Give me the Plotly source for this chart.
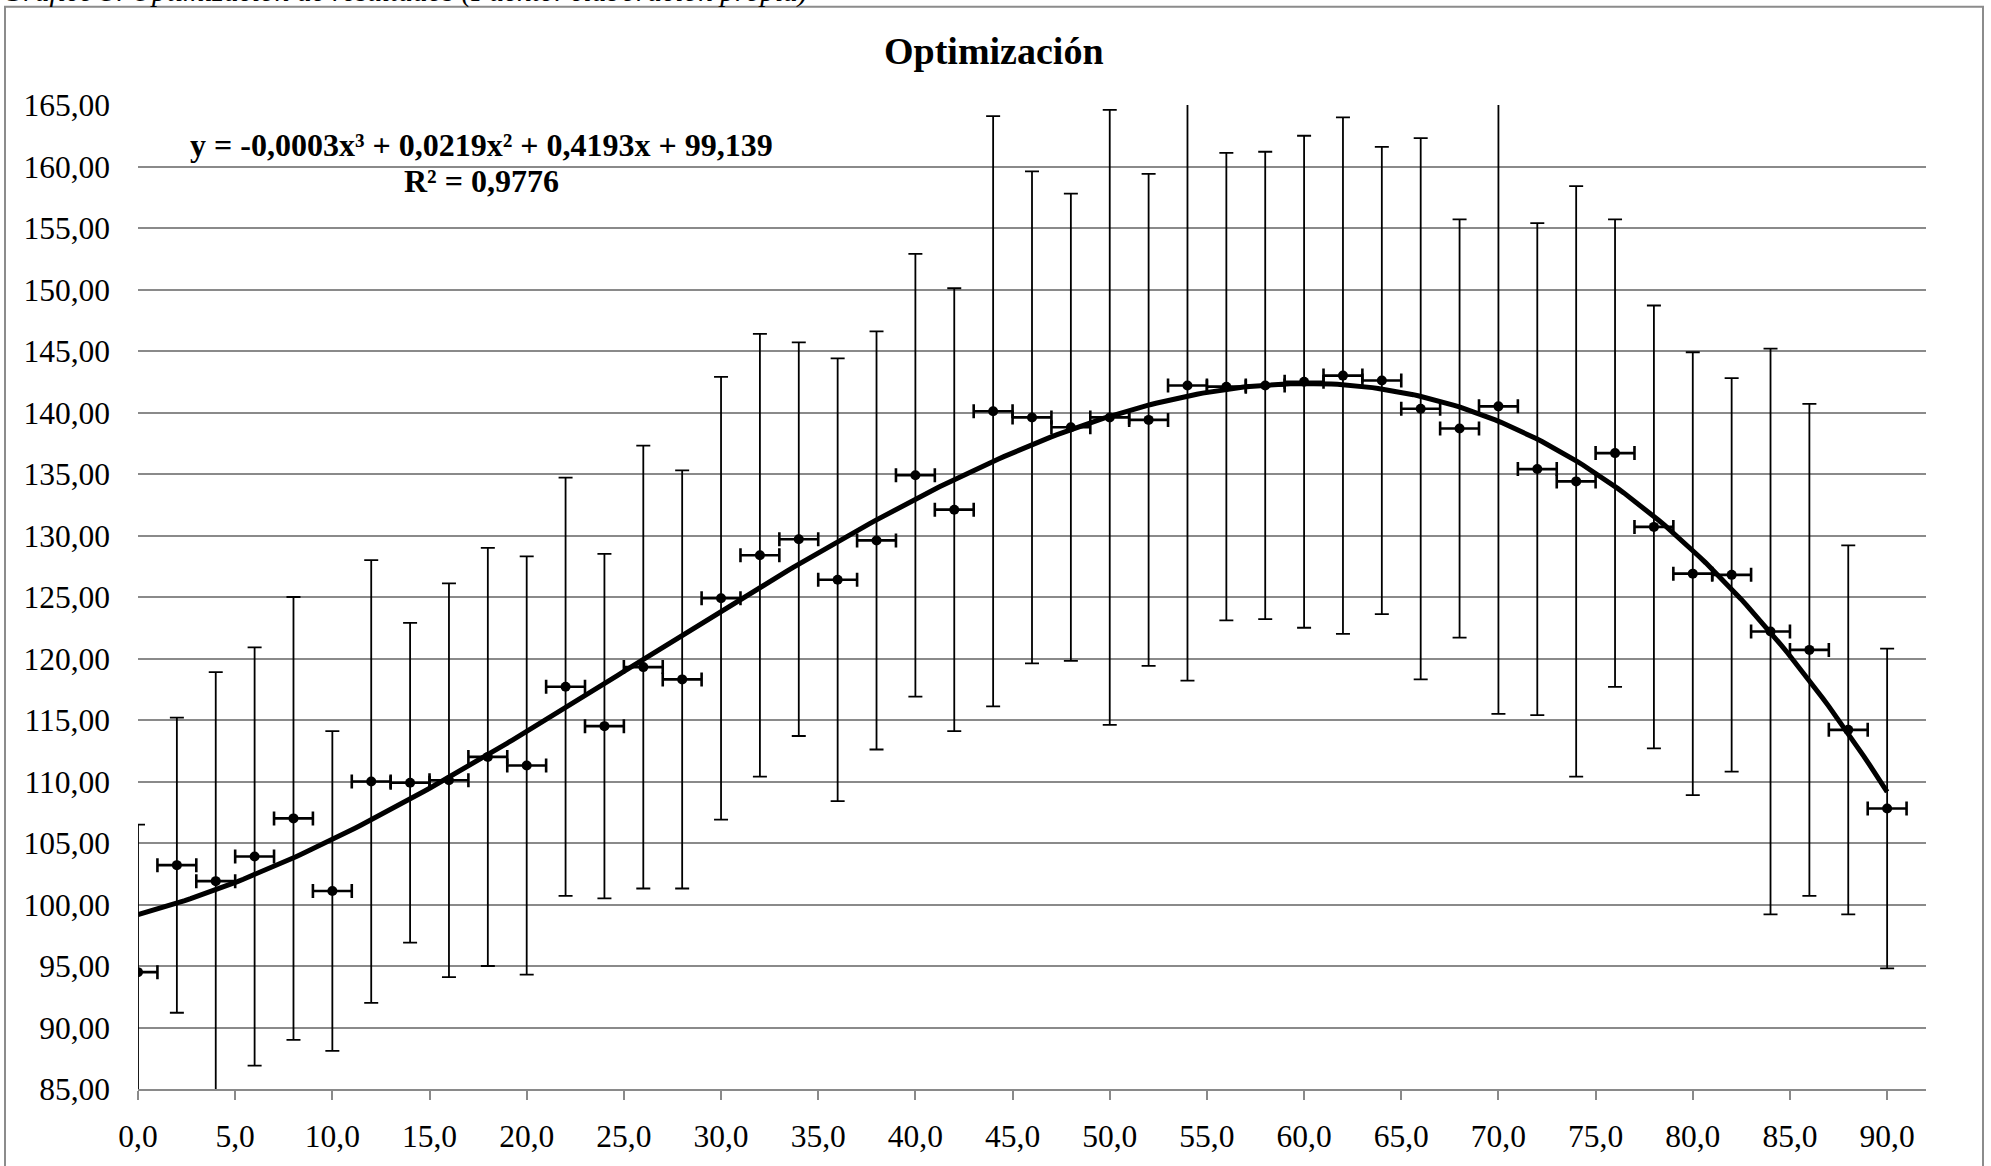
import numpy as np
import plotly.graph_objects as go

# ---- data ----
x_vals = [0, 2, 4, 6, 8, 10, 12, 14, 16, 18, 20, 22, 24, 26, 28, 30, 32, 34, 36, 38,
          40, 42, 44, 46, 48, 50, 52, 54, 56, 58, 60, 62, 64, 66, 68, 70, 72, 74, 76, 78,
          80, 82, 84, 86, 88, 90]
y_vals = [94.5, 103.2, 101.9, 103.9, 107.0, 101.1, 110.0, 109.9, 110.1, 112.0,
          111.3, 117.7, 114.5, 119.3, 118.3, 124.9, 128.4, 129.7, 126.4, 129.6,
          134.9, 132.1, 140.1, 139.6, 138.8, 139.6, 139.4, 142.2, 142.1, 142.2,
          142.5, 143.0, 142.6, 140.3, 138.7, 140.5, 135.4, 134.4, 136.7, 130.7,
          126.9, 126.8, 122.2, 120.7, 114.2, 107.8]
y_err = [12, 12, 17, 17, 18, 13, 18, 13, 16, 17,
         17, 17, 14, 18, 17, 18, 18, 16, 18, 17,
         18, 18, 24, 20, 19, 25, 20, 24, 19, 19,
         20, 21, 19, 22, 17, 25, 20, 24, 19, 18,
         18, 16, 23, 20, 15, 13]
x_err = [1] * len(x_vals)

title_text = "Optimización"
caption_text = "Gráfico 3. Optimización de resultados (Fuente: elaboración propia)"
equation_line1 = "y = -0,0003x³ + 0,0219x² + 0,4193x + 99,139"
equation_line2 = "R² = 0,9776"

# cubic trendline (least squares, as the spreadsheet trendline)
coef = np.polyfit(x_vals, y_vals, 3)
x_fit = np.linspace(min(x_vals), max(x_vals), 300)
y_fit = np.polyval(coef, x_fit)

FONT = "Liberation Serif"
W, H = 1991, 1166
ML, MR, MT, MB = 138, 65, 105, 69
PW, PH = W - ML - MR, H - MT - MB


def px_to_paper_x(px):
    return (px - ML) / PW


def py_to_paper_y(py):
    return (H - MB - py) / PH


fig = go.Figure()

fig.add_trace(go.Scatter(
    x=x_vals, y=y_vals, mode="markers",
    marker=dict(color="black", size=10),
    error_y=dict(type="data", array=y_err, visible=True, color="black",
                 thickness=1.8, width=7),
    error_x=dict(type="data", array=x_err, visible=True, color="black",
                 thickness=2.6, width=7),
    showlegend=False,
))

fig.add_trace(go.Scatter(
    x=x_fit, y=y_fit, mode="lines",
    line=dict(color="black", width=5),
    showlegend=False,
))

fig.update_layout(
    width=W, height=H,
    margin=dict(l=ML, r=MR, t=MT, b=MB, pad=0),
    paper_bgcolor="white", plot_bgcolor="white",
    separators=",.",
    font=dict(family=FONT, size=31, color="black"),
    xaxis=dict(
        range=[0, 92], tick0=0, dtick=5, tickformat=".1f",
        showgrid=False, zeroline=False,
        showline=True, linecolor="#8a8a8a", linewidth=2,
        ticks="outside", ticklen=9, tickwidth=2, tickcolor="#8a8a8a",
        ticklabelstandoff=9,
        tickfont=dict(family=FONT, size=31.5, color="black"),
    ),
    yaxis=dict(
        range=[85, 165], tick0=85, dtick=5, tickformat=".2f",
        showgrid=True, gridcolor="#8a8a8a", gridwidth=2,
        zeroline=False, showline=False, ticks="",
        ticklabelstandoff=27,
        tickfont=dict(family=FONT, size=31.5, color="black"),
    ),
)

# outer chart border
fig.add_shape(type="rect", xref="paper", yref="paper",
              x0=px_to_paper_x(5), x1=px_to_paper_x(1983),
              y0=py_to_paper_y(1200), y1=py_to_paper_y(6),
              line=dict(color="#8c8c8c", width=2), fillcolor="rgba(0,0,0,0)",
              layer="below")

# title
fig.add_annotation(text="<b>" + title_text + "</b>", xref="paper", yref="paper",
                   x=px_to_paper_x(994), y=py_to_paper_y(51),
                   xanchor="center", yanchor="middle", showarrow=False,
                   font=dict(family=FONT, size=38, color="black"))

# trendline equation (two lines)
fig.add_annotation(text="<b>" + equation_line1 + "</b>", xref="paper", yref="paper",
                   x=px_to_paper_x(481), y=py_to_paper_y(145),
                   xanchor="center", yanchor="middle", showarrow=False,
                   font=dict(family=FONT, size=32, color="black"))
fig.add_annotation(text="<b>" + equation_line2 + "</b>", xref="paper", yref="paper",
                   x=px_to_paper_x(481), y=py_to_paper_y(182),
                   xanchor="center", yanchor="middle", showarrow=False,
                   font=dict(family=FONT, size=32, color="black"))

# cut-off caption at top
fig.add_annotation(text="<i>" + caption_text + "</i>", xref="paper", yref="paper",
                   x=px_to_paper_x(0), y=py_to_paper_y(9),
                   xanchor="left", yanchor="bottom", showarrow=False,
                   font=dict(family=FONT, size=29.5, color="black"))

fig.write_html("out.html")
